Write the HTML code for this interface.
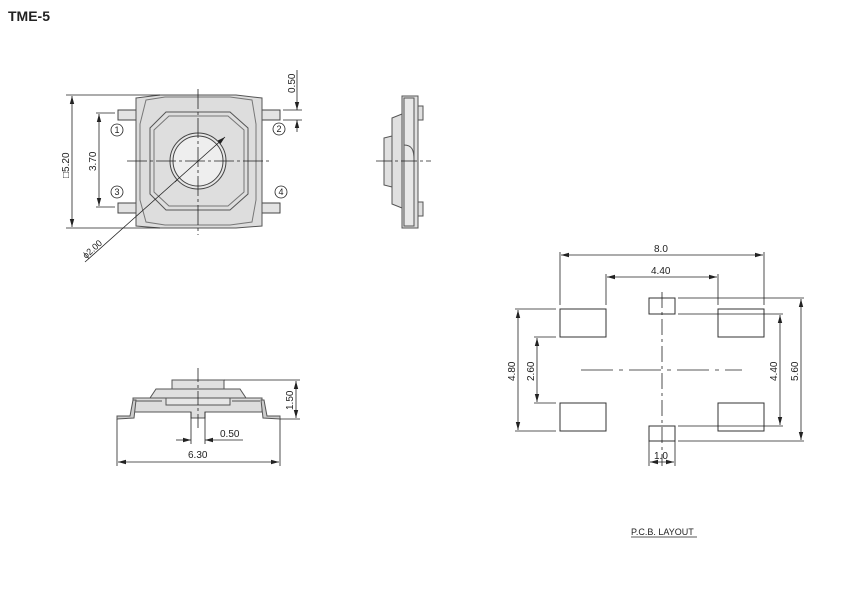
<!DOCTYPE html>
<html><head><meta charset="utf-8"><style>
html,body{margin:0;padding:0;background:#fff;}
svg{display:block;}
text{font-family:"Liberation Sans",sans-serif;fill:#222;}
</style></head><body>
<svg width="863" height="605" viewBox="0 0 863 605" xmlns="http://www.w3.org/2000/svg">
<defs>
<marker id="a" markerWidth="8" markerHeight="6" refX="8" refY="3" orient="auto-start-reverse" markerUnits="userSpaceOnUse"><path d="M0,0.8 L8,3 L0,5.2z" fill="#222"/></marker>
</defs>
<text x="8" y="21" font-size="14" font-weight="bold">TME-5</text>

<!-- TOP VIEW -->
<g stroke="#444" stroke-width="1" fill="#e3e3e3">
<rect x="118" y="110" width="20" height="10"/><rect x="118" y="203" width="20" height="10"/>
<rect x="260" y="110" width="20" height="10"/><rect x="260" y="203" width="20" height="10"/>
<path d="M136,98 L160,95 L236,95 L262,98 L262,226 L236,228 L160,228 L136,226 Z" fill="#ddd" stroke="#555"/>
<path d="M146,100 L165,97 L230,97 L252,100 L256,124 L256,200 L252,222 L230,225 L165,225 L146,222 L140,200 L140,124 Z" fill="#ddd" stroke="#777"/>
<path d="M166,112 L230,112 L248,128 L248,194 L230,210 L166,210 L150,194 L150,128 Z" fill="#dedede" stroke="#555"/>
<path d="M169,116 L228,116 L244,130 L244,192 L228,206 L169,206 L154,192 L154,130 Z" fill="none" stroke="#777"/>
<circle cx="198" cy="161" r="28" fill="#e6e6e6"/>
<circle cx="198" cy="161" r="25" fill="#eee"/>
</g>
<g stroke="#222" stroke-width="0.8" fill="none">
<line x1="198" y1="89" x2="198" y2="235" stroke-dasharray="20,3,3,3"/>
<line x1="127" y1="161" x2="270" y2="161" stroke-dasharray="20,3,3,3"/>
<line x1="85" y1="262" x2="225" y2="137" marker-end="url(#a)"/>
<line x1="175" y1="182" x2="177" y2="180"/>
<!-- 5.20 -->
<line x1="66" y1="95" x2="160" y2="95"/><line x1="66" y1="228" x2="160" y2="228"/>
<line x1="72" y1="96" x2="72" y2="227" marker-start="url(#a)" marker-end="url(#a)"/>
<!-- 3.70 -->
<line x1="96" y1="113" x2="115" y2="113"/><line x1="96" y1="207" x2="115" y2="207"/>
<line x1="99" y1="114" x2="99" y2="206" marker-start="url(#a)" marker-end="url(#a)"/>
<!-- 0.50 -->
<line x1="283" y1="110" x2="302" y2="110"/><line x1="283" y1="120" x2="302" y2="120"/>
<line x1="297" y1="98" x2="297" y2="110" marker-end="url(#a)"/>
<line x1="297" y1="132" x2="297" y2="120" marker-end="url(#a)"/>
<line x1="297" y1="70" x2="297" y2="98"/>
</g>
<g font-size="10">
<text transform="translate(69,178) rotate(-90)">□5.20</text>
<text transform="translate(96,171) rotate(-90)">3.70</text>
<text transform="translate(295,93) rotate(-90)">0.50</text>
<text transform="translate(86,259) rotate(-42)" font-size="9">ϕ2.00</text>
</g>
<g stroke="#222" stroke-width="0.8" fill="#fff" font-size="10">
<circle cx="117" cy="130" r="6"/><circle cx="279" cy="129" r="6"/>
<circle cx="117" cy="192" r="6"/><circle cx="281" cy="192" r="6"/>
</g>
<g font-size="9" text-anchor="middle">
<text x="117" y="133">1</text><text x="279" y="132">2</text><text x="117" y="195">3</text><text x="281" y="195">4</text>
</g>

<!-- SIDE VIEW -->
<g stroke="#555" stroke-width="1" fill="#e0e0e0">
<path d="M384,138 L396,135 L396,188 L384,185 Z"/>
<path d="M392,118 L402,114 L402,208 L392,204 Z"/>
<path d="M402,96 L418,96 L418,228 L402,228 Z"/>
<path d="M404,98 L414,98 L414,226 L404,226 Z" fill="#e8e8e8"/>
<rect x="418" y="106" width="5" height="14"/><rect x="418" y="202" width="5" height="14"/>
<path d="M404,145 C412,145 414,150 414,160" fill="none"/>
</g>
<line x1="376" y1="161" x2="431" y2="161" stroke="#222" stroke-width="0.8" stroke-dasharray="16,3,3,3"/>

<!-- FRONT VIEW -->
<g stroke="#555" stroke-width="1" fill="#e0e0e0">
<rect x="172" y="380" width="52" height="9"/>
<path d="M150,398 L156,389 L240,389 L246,398 Z"/>
<path d="M133,398 L262,398 L262,412 L205,412 L205,418 L191,418 L191,412 L133,412 Z" fill="#ddd"/>
<path d="M166,398 L230,398 L230,405 L166,405 Z" fill="#e6e6e6"/>
<path d="M117,416 L130,416 L133,400 L136,400 L134,418 L117,419 Z" fill="#ccc"/>
<path d="M280,416 L267,416 L264,400 L261,400 L263,418 L280,419 Z" fill="#ccc"/>
<line x1="136" y1="401" x2="162" y2="401"/><line x1="232" y1="401" x2="260" y2="401"/>
</g>
<g stroke="#222" stroke-width="0.8" fill="none">
<line x1="198" y1="368" x2="198" y2="428" stroke-dasharray="14,3,3,3"/>
<line x1="224" y1="380" x2="300" y2="380"/><line x1="280" y1="419" x2="300" y2="419"/>
<line x1="296" y1="381" x2="296" y2="418" marker-start="url(#a)" marker-end="url(#a)"/>
<line x1="191" y1="412" x2="191" y2="444"/><line x1="205" y1="412" x2="205" y2="444"/>
<line x1="176" y1="440" x2="191" y2="440" marker-end="url(#a)"/>
<line x1="243" y1="440" x2="205" y2="440" marker-end="url(#a)"/>
<line x1="117" y1="419" x2="117" y2="466"/><line x1="280" y1="419" x2="280" y2="466"/>
<line x1="118" y1="462" x2="279" y2="462" marker-start="url(#a)" marker-end="url(#a)"/>
</g>
<g font-size="10">
<text transform="translate(293,410) rotate(-90)">1.50</text>
<text x="220" y="437">0.50</text>
<text x="188" y="458">6.30</text>
</g>

<!-- PCB LAYOUT -->
<g stroke="#333" stroke-width="1" fill="none">
<rect x="560" y="309" width="46" height="28"/><rect x="560" y="403" width="46" height="28"/>
<rect x="718" y="309" width="46" height="28"/><rect x="718" y="403" width="46" height="28"/>
<rect x="649" y="298" width="26" height="16"/><rect x="649" y="426" width="26" height="15"/>
</g>
<g stroke="#222" stroke-width="0.8" fill="none">
<line x1="662" y1="292" x2="662" y2="466" stroke-dasharray="16,4,3,4"/>
<line x1="581" y1="370" x2="742" y2="370" stroke-dasharray="32,6,4,6"/>
<line x1="560" y1="252" x2="560" y2="305"/><line x1="764" y1="252" x2="764" y2="305"/>
<line x1="561" y1="255" x2="763" y2="255" marker-start="url(#a)" marker-end="url(#a)"/>
<line x1="606" y1="274" x2="606" y2="305"/><line x1="718" y1="274" x2="718" y2="305"/>
<line x1="607" y1="277" x2="717" y2="277" marker-start="url(#a)" marker-end="url(#a)"/>
<line x1="515" y1="309" x2="556" y2="309"/><line x1="515" y1="431" x2="556" y2="431"/>
<line x1="518" y1="310" x2="518" y2="430" marker-start="url(#a)" marker-end="url(#a)"/>
<line x1="534" y1="337" x2="556" y2="337"/><line x1="534" y1="403" x2="556" y2="403"/>
<line x1="537" y1="338" x2="537" y2="402" marker-start="url(#a)" marker-end="url(#a)"/>
<line x1="678" y1="314" x2="783" y2="314"/><line x1="678" y1="426" x2="783" y2="426"/>
<line x1="780" y1="315" x2="780" y2="425" marker-start="url(#a)" marker-end="url(#a)"/>
<line x1="678" y1="298" x2="804" y2="298"/><line x1="678" y1="441" x2="804" y2="441"/>
<line x1="801" y1="299" x2="801" y2="440" marker-start="url(#a)" marker-end="url(#a)"/>
<line x1="649" y1="441" x2="649" y2="466"/><line x1="675" y1="441" x2="675" y2="466"/>
<line x1="650" y1="462" x2="674" y2="462" marker-start="url(#a)" marker-end="url(#a)"/>
</g>
<g font-size="10">
<text x="654" y="252">8.0</text>
<text x="651" y="274">4.40</text>
<text transform="translate(515,381) rotate(-90)">4.80</text>
<text transform="translate(534,381) rotate(-90)">2.60</text>
<text transform="translate(777,381) rotate(-90)">4.40</text>
<text transform="translate(798,381) rotate(-90)">5.60</text>
<text x="654" y="459">1.0</text>
<text x="631" y="535" font-size="9">P.C.B.  LAYOUT</text>
</g>
<line x1="631" y1="537" x2="697" y2="537" stroke="#222" stroke-width="0.7"/>
</svg>
</body></html>
